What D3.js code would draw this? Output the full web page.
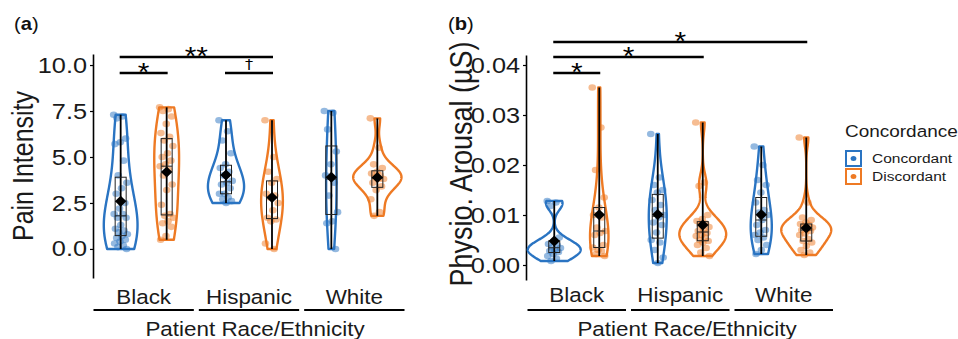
<!DOCTYPE html>
<html>
<head>
<meta charset="utf-8">
<script src="https://cdn.jsdelivr.net/npm/d3@7"></script>
<style>
    body { margin: 0; background: #fff; }
    svg { display: block; font-family: "Liberation Sans", Arial, sans-serif; }
</style>
</head>
<body>
<div id="chart"></div>
<script>
// ---- data ----
const races = ["Black", "Hispanic", "White"];
const groups = ["Concordant", "Discordant"];
const colors = ["#2a74c2", "#ee7a24"];

// pain intensity, panel (a)
const painBlackCon = [7.3, 7.2, 7.1, 6.0, 5.8, 5.7, 4.8, 4.0, 3.6, 3.3, 3.0, 2.5, 2.2, 1.9, 1.9, 1.7, 1.7, 1.3, 1.1, 1.0, 0.9, 0.8, 0.7, 0.6, 0.5, 0.4, 0.3, 0.2, 0.1, 0.0];
const painBlackDis = [7.7, 7.6, 7.5, 7.2, 6.8, 6.3, 6.1, 5.9, 5.6, 5.2, 5.0, 4.8, 4.6, 4.5, 4.3, 4.0, 3.5, 3.2, 2.4, 1.9, 1.8, 1.7, 1.5, 1.4, 1.2, 0.7, 0.5];
const painHispCon = [7.0, 6.4, 5.9, 5.2, 4.6, 4.4, 4.2, 4.0, 3.7, 3.6, 3.5, 3.3, 3.0, 3.0, 2.8, 2.7, 2.6, 2.5];
const painHispDis = [7.0, 5.0, 4.2, 3.8, 3.6, 3.0, 2.9, 2.8, 2.5, 2.1, 1.7, 1.6, 1.5, 0.3, 0.0];
const painWhiteCon = [7.5, 7.4, 6.5, 5.3, 4.6, 4.0, 3.6, 2.9, 2.0, 1.5, 1.4, 0.0];
const painWhiteDis = [7.1, 5.5, 4.6, 4.4, 4.2, 4.1, 4.0, 3.9, 3.8, 3.8, 3.6, 3.4, 3.2, 2.7, 2.0, 1.8];

// physiological arousal (uS), panel (b)
const arousalBlackCon = [0.0128, 0.0125, 0.0118, 0.0055, 0.0046, 0.0042, 0.0040, 0.0035, 0.0034, 0.0030, 0.0028, 0.0026, 0.0022, 0.0018, 0.0013, 0.0008];
const arousalBlackDis = [0.0355, 0.0275, 0.0190, 0.0135, 0.0115, 0.0100, 0.0095, 0.0075, 0.0068, 0.0064, 0.0060, 0.0040, 0.0030, 0.0035, 0.0028, 0.0022, 0.0018];
const arousalHispCon = [0.0262, 0.0175, 0.0160, 0.0150, 0.0145, 0.0130, 0.0120, 0.0110, 0.0100, 0.0095, 0.0085, 0.0080, 0.0065, 0.0050, 0.0045, 0.0030, 0.0015, 0.0004];
const arousalHispDis = [0.0285, 0.0165, 0.0158, 0.0100, 0.0092, 0.0088, 0.0083, 0.0080, 0.0076, 0.0070, 0.0068, 0.0064, 0.0060, 0.0058, 0.0055, 0.0050, 0.0048, 0.0045, 0.0040, 0.0034, 0.0025, 0.0018];
const arousalWhiteCon = [0.0237, 0.0200, 0.0170, 0.0160, 0.0145, 0.0125, 0.0110, 0.0105, 0.0100, 0.0090, 0.0080, 0.0070, 0.0065, 0.0060, 0.0055, 0.0050, 0.0040, 0.0030, 0.0022];
const arousalWhiteDis = [0.0255, 0.0125, 0.0095, 0.0090, 0.0085, 0.0082, 0.0080, 0.0078, 0.0075, 0.0072, 0.0070, 0.0068, 0.0063, 0.0060, 0.0052, 0.0048, 0.0045, 0.0038, 0.0030, 0.0025, 0.0020];

// significance brackets: [race, group] pairs and their label
const painSig = [
    {from: ["Black", "Concordant"], to: ["Black", "Discordant"], label: "*"},
    {from: ["Black", "Concordant"], to: ["Hispanic", "Discordant"], label: "**"},
    {from: ["Hispanic", "Concordant"], to: ["Hispanic", "Discordant"], label: "\u2020"}
];
const arousalSig = [
    {from: ["Black", "Concordant"], to: ["Black", "Discordant"], label: "*"},
    {from: ["Black", "Concordant"], to: ["Hispanic", "Discordant"], label: "*"},
    {from: ["Black", "Concordant"], to: ["White", "Discordant"], label: "*"}
];

const painTicks = [0, 2.5, 5, 7.5, 10];
const arousalTicks = [0, 0.01, 0.02, 0.03, 0.04];

function table(arrs) {
    // arrs in order: BlackCon, BlackDis, HispCon, HispDis, WhiteCon, WhiteDis
    return arrs.map((v, i) => ({race: races[Math.floor(i / 2)], group: groups[i % 2], values: v}));
}
const painData = table([painBlackCon, painBlackDis, painHispCon, painHispDis, painWhiteCon, painWhiteDis]);
const arousalData = table([arousalBlackCon, arousalBlackDis, arousalHispCon, arousalHispDis, arousalWhiteCon, arousalWhiteDis]);

// the reference picture is stretched horizontally, so glyphs are too
const SX = 1.15;

const svg = d3.select("#chart").append("svg")
    .attr("width", 958)
    .attr("height", 339);

// gaussian kde, bw.nrd0 * adjust, trimmed to the data range
function kde(values, n, adjust) {
    let s = values.slice().sort(d3.ascending);
    let sd = d3.deviation(s);
    let iqr = d3.quantile(s, 0.75) - d3.quantile(s, 0.25);
    let lo = Math.min(sd, iqr / 1.34) || sd;
    let bw = adjust * 0.9 * lo * Math.pow(s.length, -0.2);
    let min = s[0], max = s[s.length - 1];
    return d3.range(n).map(i => {
        let x = min + (max - min) * i / (n - 1);
        let d = d3.mean(s, v => Math.exp(-0.5 * ((x - v) / bw) ** 2)) / (bw * Math.sqrt(2 * Math.PI));
        return [x, d];
    });
}

class ViolinVis {

    constructor(svg, opts, data, sig) {
        this.svg = svg;
        this.opts = opts;
        this.data = data;
        this.sig = sig;
        this.initVis();
    }

    initVis() {
        let vis = this;
        let o = vis.opts;

        vis.x = d3.scaleBand().domain(races).range(o.xRange);
        vis.dodge = d3.scalePoint().domain(groups).range([-o.dodge, o.dodge]);
        vis.y = d3.scaleLinear().domain(o.yDomain).range([o.yBottom, o.yTop]);
        vis.color = d3.scaleOrdinal().domain(groups).range(colors);

        vis.g = vis.svg.append("g");

        // y axis
        let axis = vis.g.append("g")
            .attr("transform", "translate(" + o.axisX + ",0)")
            .call(d3.axisLeft(vis.y).tickValues(o.ticks).tickFormat(o.fmt).tickSize(3).tickSizeOuter(0).tickPadding(3))
            .attr("font-family", null)
            .attr("font-size", 22);
        axis.select(".domain").attr("stroke", "#000").attr("stroke-width", 1.6);
        axis.selectAll(".tick line").attr("stroke", "#000").attr("stroke-width", 1.2);
        axis.selectAll(".tick text")
            .attr("fill", "#1a1a1a")
            .attr("x", -6 / SX)
            .attr("transform", "scale(" + SX + ",1)");

        // y title
        vis.g.append("text")
            .attr("transform", "translate(" + o.titleX + "," + o.titleY + ") scale(" + SX + ",1) rotate(-90)")
            .attr("text-anchor", "middle")
            .attr("font-size", o.titleSize)
            .attr("fill", "#1a1a1a")
            .text(o.title);

        // category labels with underline per race
        races.forEach(r => {
            vis.g.append("text")
                .attr("transform", "translate(" + (vis.x(r) + vis.x.bandwidth() / 2) + "," + o.labelY + ") scale(" + SX + ",1)")
                .attr("text-anchor", "middle")
                .attr("font-size", 19.5)
                .attr("fill", "#1a1a1a")
                .text(r);
            vis.g.append("line")
                .attr("x1", vis.x(r) + 2.5)
                .attr("x2", vis.x(r) + vis.x.bandwidth() - 2.5)
                .attr("y1", 310).attr("y2", 310)
                .attr("stroke", "#000")
                .attr("stroke-width", 2);
        });

        vis.g.append("text")
            .attr("transform", "translate(" + o.xTitleX + ",336) scale(" + SX + ",1)")
            .attr("text-anchor", "middle")
            .attr("font-size", 19.5)
            .attr("fill", "#1a1a1a")
            .text("Patient Race/Ethnicity");

        // panel tag
        let tag = vis.g.append("text")
            .attr("transform", "translate(" + o.tagX + ",30) scale(" + SX + ",1)")
            .attr("font-size", 17.5)
            .attr("fill", "#111");
        tag.append("tspan").text("(");
        tag.append("tspan").attr("font-weight", "bold").text(o.tag);
        tag.append("tspan").text(")");

        vis.wrangleData();
    }

    wrangleData() {
        let vis = this;

        vis.displayData = vis.data.map(d => {
            let s = d.values.slice().sort(d3.ascending);
            return {
                race: d.race,
                group: d.group,
                values: d.values,
                cx: vis.x(d.race) + vis.x.bandwidth() / 2 + vis.dodge(d.group),
                // scale = "count": density times number of observations
                dens: kde(d.values, 256, vis.opts.adjust).map(p => [p[0], p[1] * s.length]),
                min: s[0],
                max: s[s.length - 1],
                q1: d3.quantile(s, 0.25),
                med: d3.quantile(s, 0.5),
                q3: d3.quantile(s, 0.75),
                mean: d3.mean(s)
            };
        });

        let maxD = d3.max(vis.displayData, d => d3.max(d.dens, p => p[1]));
        vis.w = d3.scaleLinear().domain([0, maxD]).range([0, vis.opts.halfWidth]);

        vis.updateVis();
    }

    updateVis() {
        let vis = this;
        let o = vis.opts;

        let cells = vis.g.selectAll(".cell").data(vis.displayData)
            .enter().append("g")
            .attr("class", "cell");

        // violin outline
        cells.append("path")
            .attr("fill", "none")
            .attr("stroke", d => vis.color(d.group))
            .attr("stroke-width", 2.4)
            .attr("stroke-linejoin", "round")
            .attr("d", d => {
                let area = d3.area()
                    .y(p => vis.y(p[0]))
                    .x0(p => d.cx - vis.w(p[1]) * SX)
                    .x1(p => d.cx + vis.w(p[1]) * SX);
                return area(d.dens);
            });

        // jittered points (fixed offsets)
        cells.each(function (d) {
            d3.select(this).selectAll("ellipse")
                .data(d.values)
                .enter().append("ellipse")
                .attr("cx", (v, i) => d.cx + ((((i * 0.618034) % 1) - 0.5) * 14))
                .attr("cy", v => vis.y(v))
                .attr("rx", 3.3 * SX)
                .attr("ry", 3.3)
                .attr("fill", vis.color(d.group))
                .attr("fill-opacity", 0.5);
        });

        // whisker line through the range
        cells.append("line")
            .attr("x1", d => d.cx).attr("x2", d => d.cx)
            .attr("y1", d => vis.y(d.min))
            .attr("y2", d => vis.y(d.max))
            .attr("stroke", "#000")
            .attr("stroke-width", 1.8);

        // box
        cells.append("rect")
            .attr("x", d => d.cx - 5.5)
            .attr("width", 11)
            .attr("y", d => vis.y(d.q3))
            .attr("height", d => vis.y(d.q1) - vis.y(d.q3))
            .attr("fill", "none")
            .attr("stroke", "#222")
            .attr("stroke-width", 1);

        cells.append("line")
            .attr("x1", d => d.cx - 5.5).attr("x2", d => d.cx + 5.5)
            .attr("y1", d => vis.y(d.med)).attr("y2", d => vis.y(d.med))
            .attr("stroke", "#222")
            .attr("stroke-width", 1);

        // mean diamond
        cells.append("path")
            .attr("transform", d => "translate(" + d.cx + "," + vis.y(d.mean) + ") scale(" + SX + ",1)")
            .attr("d", "M0,-5.5L5,0L0,5.5L-5,0Z")
            .attr("fill", "#000");

        // significance brackets
        let cx = (p) => vis.x(p[0]) + vis.x.bandwidth() / 2 + vis.dodge(p[1]);
        vis.sig.forEach((s, i) => {
            let yy = o.bracketY[i];
            let x1 = cx(s.from) - 1, x2 = cx(s.to) + 1;
            vis.g.append("line")
                .attr("x1", x1).attr("x2", x2)
                .attr("y1", yy).attr("y2", yy)
                .attr("stroke", "#000")
                .attr("stroke-width", 2.3);
            let dagger = s.label === "\u2020";
            vis.g.append("text")
                .attr("transform", "translate(" + ((x1 + x2) / 2) + "," + (yy + (dagger ? -4 : 7.5)) + ") scale(" + SX + ",1)")
                .attr("text-anchor", "middle")
                .attr("font-size", dagger ? 14 : 26)
                .attr("font-family", dagger ? "DejaVu Sans" : null)
                .attr("fill", "#000")
                .text(s.label);
        });
    }
}

new ViolinVis(svg, {
    xRange: [91, 407], dodge: 23,
    yDomain: [-1.58, 10.6], yBottom: 278, yTop: 54,
    axisX: 93, ticks: painTicks, fmt: d3.format(".1f"),
    title: "Pain Intensity", titleX: 33, titleY: 166, titleSize: 25,
    labelY: 304, xTitleX: 255, tag: "a", tagX: 14,
    halfWidth: 21, adjust: 1.5, bracketY: [73, 57, 73]
}, painData, painSig);

new ViolinVis(svg, {
    xRange: [525, 835.5], dodge: 22.5,
    yDomain: [-0.003, 0.042], yBottom: 280, yTop: 55,
    axisX: 526, ticks: arousalTicks, fmt: d3.format(".2f"),
    title: "Physio. Arousal (\u00b5S)", titleX: 472, titleY: 164, titleSize: 27,
    labelY: 302, xTitleX: 687, tag: "b", tagX: 448,
    halfWidth: 23, adjust: 1.5, bracketY: [73, 57, 42]
}, arousalData, arousalSig);

// legend
let legend = svg.append("g").attr("transform", "translate(845,0)");
legend.append("text")
    .attr("transform", "translate(0,137) scale(" + SX + ",1)")
    .attr("font-size", 16.5)
    .attr("fill", "#1a1a1a")
    .text("Concordance");

groups.forEach((gname, i) => {
    let yy = 151 + i * 18;
    legend.append("rect")
        .attr("x", 1).attr("y", yy)
        .attr("width", 15).attr("height", 15)
        .attr("fill", "#fff")
        .attr("stroke", colors[i])
        .attr("stroke-width", 2);
    legend.append("ellipse")
        .attr("cx", 8.5).attr("cy", yy + 7.5)
        .attr("rx", 2.5 * SX).attr("ry", 2.5)
        .attr("fill", colors[i]);
    legend.append("text")
        .attr("transform", "translate(27," + (yy + 12) + ") scale(" + SX + ",1)")
        .attr("font-size", 13.5)
        .attr("fill", "#1a1a1a")
        .text(gname);
});
</script>
</body>
</html>
